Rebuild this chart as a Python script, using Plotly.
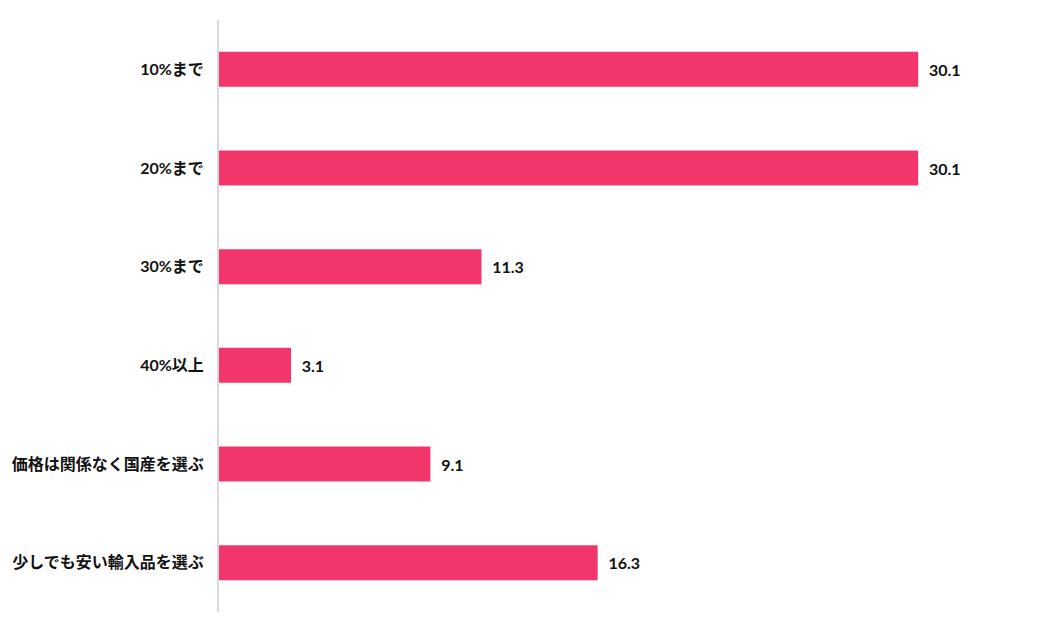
import plotly.graph_objects as go

# answer choices (top to bottom) and share in %
categories = ["10%まで", "20%まで", "30%まで", "40%以上", "価格は関係なく国産を選ぶ", "少しでも安い輸入品を選ぶ"]
values = [30.1, 30.1, 11.3, 3.1, 9.1, 16.3]

FONT = "Lato, Noto Sans CJK JP"

fig = go.Figure(go.Bar(
    x=values,
    y=categories,
    orientation="h",
    marker=dict(color="#F2366B", line=dict(width=0)),
    text=[f"  {v:.1f}" for v in values],
    textposition="outside",
    textfont=dict(size=16, color="#111111", family=FONT, weight="bold"),
    cliponaxis=False,
))

# page body adds an 8px offset, so margins are shifted to compensate
fig.update_layout(
    width=1052, height=632,
    margin=dict(l=211, r=28, t=12, b=28, autoexpand=False),
    plot_bgcolor="white", paper_bgcolor="white",
    bargap=0.645,
    showlegend=False,
    font=dict(family=FONT, size=16, color="#111111"),
    xaxis=dict(range=[0, 35], showgrid=False, zeroline=False,
               showticklabels=False, showline=False, automargin=False),
    yaxis=dict(autorange="reversed", showgrid=False, zeroline=False,
               showline=True, linecolor="#d9d9d9", linewidth=2,
               ticks="", ticklabelstandoff=10, automargin=False,
               tickfont=dict(size=16, family=FONT, weight="bold", color="#111111")),
)

fig.write_html("out.html")
